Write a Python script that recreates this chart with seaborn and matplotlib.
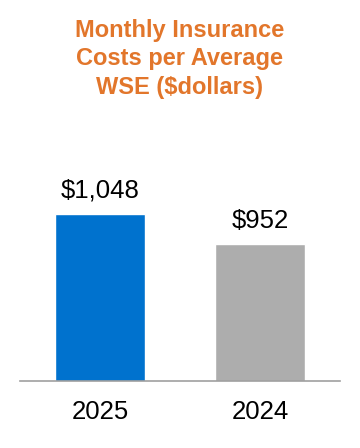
import seaborn as sns
import matplotlib.pyplot as plt

# chart data
years = ["2025", "2024"]
costs = [1048, 952]
cost_labels = ["$1,048", "$952"]
bar_colors = ["#0072CE", "#ADADAD"]

sns.set_style("white")
plt.rcParams["font.family"] = ["Liberation Sans", "DejaVu Sans"]

fig = plt.figure(figsize=(3.6, 4.48), dpi=100)
# axes spans pixel x 20..340, y 120..381 (from top)
ax = fig.add_axes([20 / 360, (448 - 381) / 448, 320 / 360, 261 / 448])

sns.barplot(x=years, y=costs, hue=years, palette=bar_colors, width=0.5625,
            legend=False, saturation=1, ax=ax)

ax.set_xlim(-0.5, 1.5)
ax.set_ylim(514, 1350)

for i, (v, lab) in enumerate(zip(costs, cost_labels)):
    ax.annotate(lab, (i, v), xytext=(0, 12), textcoords="offset points",
                ha="center", va="baseline", fontsize=18.5, color="black")

sns.despine(ax=ax, left=True)
ax.spines["bottom"].set_color("#A0A0A0")
ax.spines["bottom"].set_linewidth(1.2)
ax.set_yticks([])
ax.tick_params(axis="x", length=0, pad=14, labelsize=18.5, labelcolor="black")
ax.set_xlabel("")
ax.set_ylabel("")

fig.text(0.5, 1 - 18.5 / 448, "Monthly Insurance\nCosts per Average\nWSE ($dollars)",
         ha="center", va="top", fontsize=17, fontweight="bold",
         color="#E2762B", linespacing=1.32)

fig.savefig("out.png", dpi=100)
